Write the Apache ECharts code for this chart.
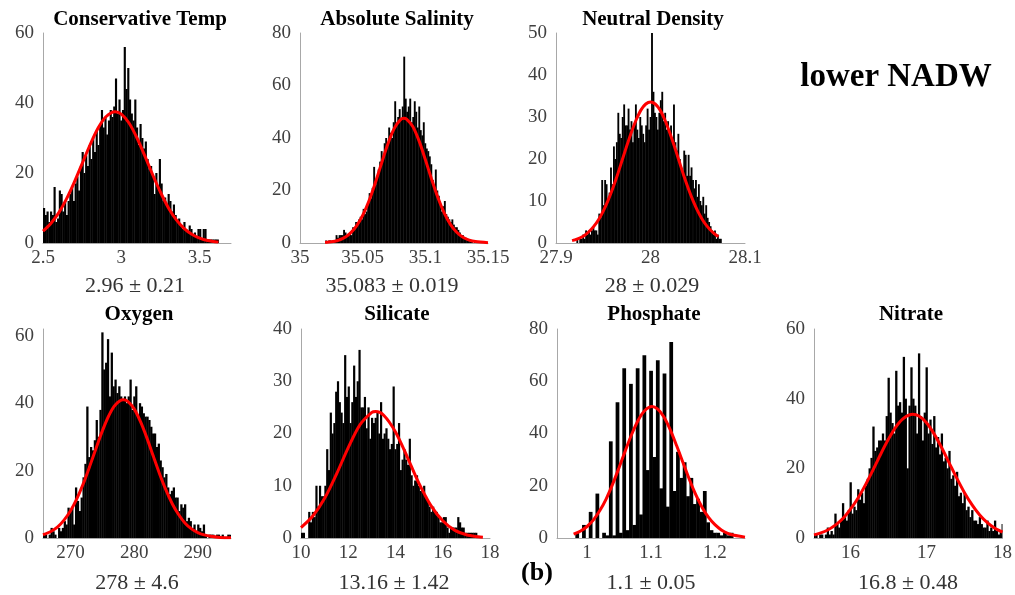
<!DOCTYPE html>
<html><head><meta charset="utf-8">
<script src="https://cdn.jsdelivr.net/npm/echarts@6/dist/echarts.min.js"></script>
<style>html,body{margin:0;padding:0;background:#fff}#c{width:1015px;height:595px}</style>
</head><body><div id="c"></div>
<script>
// ---------------- DATA ----------------
// Conservative Temp
const ctStart = 2.5, ctWidth = 0.0112;
const ctCounts = [10,8,9,6, 9,8,16, 6,7,15, 14,9,12, 8,12,14, 16,12,17, 19,15,22, 26,20,25, 22,28,24, 30,26,32, 28,34,38, 33,36,31, 35,38,36, 39,47,37, 41,35,38, 56,44,50, 41,37,35, 41,33,28, 34,30,27, 29,24,21, 22,19,14, 20,16,24, 17,12,13, 11,14,12, 9,11,8, 6,7,5, 4,6,4, 3,5,4, 2,3,2, 4,4,1, 4,4,1, 1,1,1, 1,1,1];
const ctCurveX = [2.5,2.55,2.6,2.65,2.7,2.75,2.8,2.85,2.9,2.96,3.0,3.05,3.1,3.15,3.2,3.25,3.3,3.35,3.4,3.45,3.5,3.55,3.62];
const ctCurveY = [3.4,5.6,8.6,12.6,17.4,22.7,28.0,32.7,36.0,37.5,36.8,34.2,30.0,24.9,19.5,14.5,10.1,6.7,4.2,2.5,1.4,0.72,0.25];
const ctXTicks = [2.5, 3, 3.5];
const ctYTicks = [0, 20, 40, 60];

// Absolute Salinity
const saStart = 35.02, saWidth = 0.0012;
const saCounts = [1,0,1,1,0,1,1, 3,2,3,3,3, 5,4,3,3,4,3, 6,5,8,7,9, 10,9,13,11,12, 15,19,17,21, 29,22,25, 28,31,35,33,38, 40,37,44,42, 40,46,54,45, 48,51,47,52, 71, 55,50,52,55, 46,48,54,50,44, 52,43,41,46, 38,36,35,33,30, 24,22,28,20, 18,15,12,14, 16,11,10,9,8, 9,7,6,6, 5,4,3,3, 2,2,1,1, 1,1,0,1];
const saCurveX = [35.02,35.025,35.03,35.035,35.04,35.045,35.05,35.055,35.06,35.065,35.07,35.075,35.08,35.083,35.085,35.09,35.095,35.1,35.105,35.11,35.115,35.12,35.125,35.13,35.135,35.14,35.15];
const saCurveY = [0.19,0.45,0.97,1.95,3.7,6.4,10.5,16.0,22.8,30.3,37.6,43.5,46.9,47.5,47.2,44.4,38.9,31.8,24.3,17.3,11.5,7.1,4.1,2.2,1.1,0.53,0.09];
const saXTicks = [35, 35.05, 35.1, 35.15];
const saYTicks = [0, 20, 40, 60, 80];

// Neutral Density
const ndStart = 27.92, ndWidth = 0.00155;
const ndCounts = [0,1,0,1,1, 2,1,3,2,3, 2,3,4,3, 3,2,7, 6,15,9, 15,14,10, 12,18,14, 23,20,24, 31,26,25, 30,33,28, 28,32,27, 29,24,28, 33,27,25, 30,28,26, 24,28,32, 27,30,50, 36,31,30, 27,31,34, 36,29,31, 27,29,26, 28,25,33, 24,22,26, 20,18,17, 22,21,16, 21,16,18, 15,13,15, 11,14,10, 9,11,7, 9,6,5, 4,3,2, 3,1,2, 1,1];
const ndCurveX = [27.917,27.92,27.925,27.93,27.935,27.94,27.945,27.95,27.955,27.96,27.965,27.97,27.975,27.98,27.985,27.99,27.995,28.0,28.005,28.01,28.015,28.02,28.025,28.03,28.035,28.04,28.045,28.05,28.055,28.06,28.065,28.07,28.072];
const ndCurveY = [0.56,0.75,1.19,1.8,2.73,3.95,5.55,7.6,10.1,13.0,16.2,19.7,23.2,26.5,29.4,31.7,33.1,33.6,33.1,31.7,29.4,26.5,23.2,19.7,16.2,13.0,10.1,7.6,5.55,3.95,2.73,1.8,1.55];
const ndXTicks = [27.9, 28, 28.1];
const ndYTicks = [0, 10, 20, 30, 40, 50];

// Oxygen
const oxStart = 265.7, oxWidth = 0.295;
const oxCounts = [1,1,0,1,3,2,1,0,3,2, 3,5,4,9,8,9,4,15,11,8, 12,18,22,39,24,27,26,29,35,30, 38,61,50,52,59,42,55,45,47,43, 45,42,41,42,40,42,47,38,42,45, 36,40,39,37,36,36,35,33,31,31, 27,28,23,21,18,19,15,13,14,15, 12,12,8,10,9,10,5,6,5,3, 4,2,4,3,2,4,1,0,1,1, 1,0,1,1,0,1,0,0,1,1];
const oxCurveX = [265.7,267,268,269,270,271,272,273,274,275,276,277,278.3,279,280,281,282,283,284,285,286,287,288,289,290,291,292,293.5,295.2];
const oxCurveY = [0.96,2.0,3.3,5.3,8.0,11.6,16.0,21.1,26.5,31.7,36.2,39.4,41.0,40.5,38.3,34.5,29.7,24.3,19.0,14.2,10.1,6.9,4.4,2.7,1.6,0.91,0.49,0.17,0.05];
const oxXTicks = [270, 280, 290];
const oxYTicks = [0, 20, 40, 60];

// Silicate
const siStart = 10.0, siWidth = 0.076;
const siCounts = [1,1,0,0,5,3,5,4,10,6, 10,8,8,10,17,13,24,20,22,28, 30,26,24,22,35,27,29,22,26,33, 27,30,36,25,25,27,21,25,19,23, 22,23,24,20,26,19,20,21,19,17, 18,29,17,18,22,13,15,17,15,14, 19,12,10,11,12,10,9,9,10,8, 7,6,5,6,5,5,4,3,3,4, 4,2,1,2,2,2,2,4,3,2, 2,1,1,1,1,1,1,1,0,0];
const siCurveX = [10,10.5,11,11.5,12,12.5,13,13.16,13.5,14,14.5,15,15.5,16,16.5,17,17.5,17.7];
const siCurveY = [2.0,4.2,7.6,12.2,17.3,21.7,24.05,24.2,23.5,20.3,15.5,10.4,6.2,3.3,1.5,0.62,0.23,0.15];
const siXTicks = [10, 12, 14, 16, 18];
const siYTicks = [0, 10, 20, 30, 40];

// Phosphate
const phStart = 0.981675, phWidth = 0.00525;
const phCounts = [2,0, 5,0, 10,0, 17,0, 2,1, 37,1, 52,2, 65,3, 59,5, 65,9, 70,26, 64,31, 68,19, 63,12, 75,18, 33,23, 29,16, 23,13, 15,10, 18,6, 3,2, 2,1, 2,1, 2,0, 0,0];
const phCurveX = [0.979,0.99,1.0,1.01,1.02,1.03,1.04,1.05,1.06,1.07,1.08,1.09,1.1015,1.11,1.12,1.13,1.14,1.15,1.16,1.17,1.18,1.19,1.2,1.21,1.22,1.23,1.247];
const phCurveY = [1.5,2.7,4.4,6.96,10.5,15.0,20.6,26.9,33.5,39.8,45.1,48.7,50.3,49.4,46.4,41.5,35.4,28.9,22.4,16.6,11.7,7.9,5.1,3.1,1.8,1.02,0.34];
const phXTicks = [1, 1.1, 1.2];
const phYTicks = [0, 20, 40, 60, 80];

// Nitrate
const niStart = 15.5125, niWidth = 0.025;
const niCounts = [1,1,0,1, 1,0,1,3, 1,2,1,7, 4,3,5,10, 6,5,8,16, 7,9,8,14, 11,13,10,15, 17,20,23,32, 25,26,28,28, 30,28,35,46, 36,33,30,48, 38,39,36,52, 40,20,38,49, 40,38,30,53, 35,28,36,49, 30,34,27,35, 26,29,24,30, 22,23,20,25, 17,18,15,19, 12,13,10,13, 8,9,6,8, 5,5,4,6, 4,3,3,5, 2,3,2,5, 2,1,2,4];
const niCurveX = [15.52,15.6,15.7,15.8,15.9,16.0,16.1,16.2,16.3,16.4,16.5,16.6,16.7,16.82,16.9,17.0,17.1,17.2,17.3,17.4,17.5,17.6,17.7,17.8,17.9,18.0];
const niCurveY = [0.9,1.4,2.3,3.7,5.6,8.3,11.5,15.4,19.7,24.2,28.4,32.0,34.4,35.5,35.0,33.1,29.9,25.9,21.5,17.1,13.0,9.5,6.6,4.4,2.8,1.7];
const niXTicks = [16, 17, 18];
const niYTicks = [0, 20, 40, 60];

const titles = ['Conservative Temp','Absolute Salinity','Neutral Density','Oxygen','Silicate','Phosphate','Nitrate'];
const stats = ['2.96 \u00b1 0.21','35.083 \u00b1 0.019','28 \u00b1 0.029','278 \u00b1 4.6','13.16 \u00b1 1.42','1.1 \u00b1 0.05','16.8 \u00b1 0.48'];
const xRanges = [[2.5,3.7],[35,35.15],[27.9,28.1],[265.7,295.2],[10,18],[0.953,1.247],[15.52,18]];
const yMaxes = [60,80,50,62,40,80,60];

const hist = [
  [ctStart, ctWidth, ctCounts], [saStart, saWidth, saCounts], [ndStart, ndWidth, ndCounts],
  [oxStart, oxWidth, oxCounts], [siStart, siWidth, siCounts], [phStart, phWidth, phCounts], [niStart, niWidth, niCounts]
];
const curves = [[ctCurveX, ctCurveY],[saCurveX, saCurveY],[ndCurveX, ndCurveY],[oxCurveX, oxCurveY],[siCurveX, siCurveY],[phCurveX, phCurveY],[niCurveX, niCurveY]];
const xTicks = [ctXTicks, saXTicks, ndXTicks, oxXTicks, siXTicks, phXTicks, niXTicks];
const yTicks = [ctYTicks, saYTicks, ndYTicks, oxYTicks, siYTicks, phYTicks, niYTicks];

// ---------------- LAYOUT ----------------
const grids = [
  {left:43, top:33, width:188, height:210},
  {left:300, top:33, width:188, height:210},
  {left:556, top:33, width:189, height:210},
  {left:43, top:329, width:188, height:209},
  {left:301, top:329, width:189, height:209},
  {left:557, top:329, width:188, height:209},
  {left:814, top:329, width:189, height:209}
];
const titlePos = [[140,20],[397,20],[653,20],[139,315],[397,315],[654,315],[911,315]];
const statPos = [[135,286],[392,286],[652,286],[137,583],[394,583],[651,583],[908,583]];

const FONT = 'Liberation Serif';

function renderHist(params, api) {
  const x0 = api.value(0), x1 = api.value(1), c = api.value(2);
  if (!c) return null;
  const p0 = api.coord([x0, 0]);
  const p1 = api.coord([x1, c]);
  const cs = params.coordSys;
  const rect = echarts.graphic.clipRectByRect(
    {x: p0[0], y: p1[1], width: p1[0] - p0[0] + 0.4, height: p0[1] - p1[1]},
    {x: cs.x, y: cs.y, width: cs.width, height: cs.height});
  if (!rect) return null;
  return {type: 'rect', shape: rect, style: {fill: '#000'}};
}

const option = {
  animation: false,
  backgroundColor: '#fff',
  textStyle: {fontFamily: FONT},
  grid: grids.map(g => Object.assign({containLabel: false}, g)),
  xAxis: [], yAxis: [], series: [], graphic: []
};

for (let i = 0; i < 7; i++) {
  option.xAxis.push({
    type: 'value', gridIndex: i, min: xRanges[i][0], max: xRanges[i][1],
    axisLine: {show: true, onZero: false, lineStyle: {color: '#a8a8a8', width: 1}},
    axisTick: {show: false}, splitLine: {show: false},
    axisLabel: {customValues: xTicks[i], color: '#404040', fontFamily: FONT, fontSize: 19, margin: 6}
  });
  option.yAxis.push({
    type: 'value', gridIndex: i, min: 0, max: yMaxes[i],
    axisLine: {show: true, onZero: false, lineStyle: {color: '#a8a8a8', width: 1}},
    axisTick: {show: false}, splitLine: {show: false},
    axisLabel: {customValues: yTicks[i], color: '#404040', fontFamily: FONT, fontSize: 19, margin: 9}
  });
  const [start, w, counts] = hist[i];
  option.series.push({
    type: 'custom', xAxisIndex: i, yAxisIndex: i, renderItem: renderHist,
    encode: {x: [0, 1], y: 2},
    data: counts.map((c, k) => [start + k * w, start + (k + 1) * w, c]),
    z: 2
  });
  const [cx, cy] = curves[i];
  option.series.push({
    type: 'line', xAxisIndex: i, yAxisIndex: i, symbol: 'none', smooth: 0.3,
    lineStyle: {color: '#ff0000', width: 3},
    data: cx.map((x, k) => [x, cy[k]]), z: 5
  });
  option.graphic.push({
    type: 'text', x: titlePos[i][0], y: titlePos[i][1],
    style: {text: titles[i], fill: '#000', font: 'bold 21px "Liberation Serif"', textAlign: 'center', textVerticalAlign: 'middle'}
  });
  option.graphic.push({
    type: 'text', x: statPos[i][0], y: statPos[i][1],
    style: {text: stats[i], fill: '#333', font: '22px "Liberation Serif"', textAlign: 'center', textVerticalAlign: 'middle'}
  });
}
option.graphic.push({
  type: 'text', x: 896, y: 77,
  style: {text: 'lower NADW', fill: '#000', font: 'bold 33px "Liberation Serif"', textAlign: 'center', textVerticalAlign: 'middle'}
});
option.graphic.push({
  type: 'text', x: 537, y: 573,
  style: {text: '(b)', fill: '#000', font: 'bold 26px "Liberation Serif"', textAlign: 'center', textVerticalAlign: 'middle'}
});

const chart = echarts.init(document.getElementById('c'), null, {renderer: 'canvas'});
chart.setOption(option);
</script></body></html>
